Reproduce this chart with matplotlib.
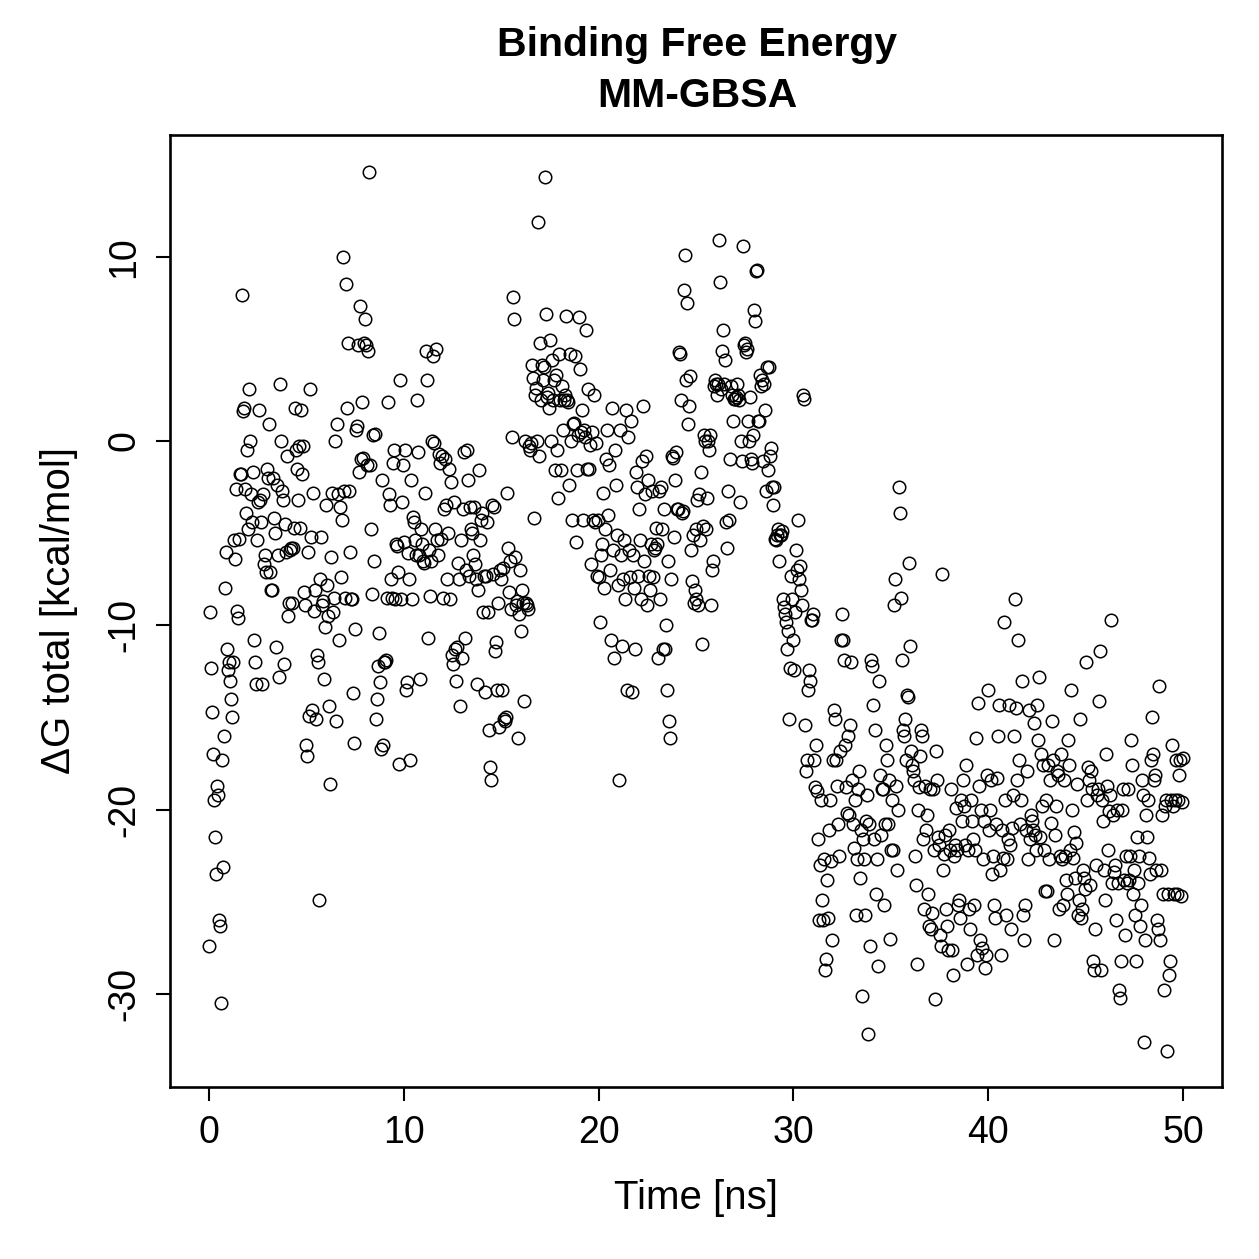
import numpy as np
import matplotlib
matplotlib.use("Agg")
import matplotlib.pyplot as plt

plt.rcParams['font.family'] = ['Liberation Sans', 'DejaVu Sans']

# Delta G total [kcal/mol], read in time order from the reference (about 0.05 ns apart)
dg_part01 = [-27.4, -9.3, -12.3, -14.7, -17.0, -19.5, -21.5, -23.5, -18.7, -19.2, -26.0, -26.3, -30.5, -17.3, -23.1, -16.0, -8.0, -6.0, -11.3, -12.4,
             -12.0, -13.0, -14.0, -15.0, -12.0, -5.4, -6.4, -2.6, -9.2, -9.6, -5.3, -1.8, -1.8, 7.9, 1.6, 1.8, -2.6, -3.9, -0.5, -4.8,
             2.8, 0.0, -2.9, -4.4, -1.7, -10.8, -12.0, -13.2, -5.4, -3.3, 1.7, -3.2, -4.4, -13.2, -2.9, -6.7, -6.2, -7.1, -1.5, -2.0,
             0.9, -7.1, -8.1, -8.1, -2.0, -4.2, -5.0, -11.2, -2.4, -6.2, -12.8, 3.1, 0.0, -2.7, -3.2, -12.1, -4.5, -6.0, -0.8, -9.5,
             -8.8, -5.9, -5.8, -8.8, -5.8, -4.7, 1.8, -0.5, -1.5, -3.2, -0.3, -4.7, 1.7, -1.8, -0.3, -8.2, -8.9, -16.5, -17.1, -6.0]
dg_part02 = [-14.9, 2.8, -5.2, -14.6, -2.8, -9.2, -8.1, -15.1, -11.6, -12.0, -24.9, -7.5, -5.2, -8.9, -8.7, -12.9, -10.1, -3.5, -7.8, -9.5,
             -14.4, -18.6, -6.3, -2.8, -9.3, -8.5, 0.0, -15.2, 0.9, -2.9, -10.8, -3.6, -7.4, -4.3, 10.0, -2.7, -8.5, 8.5, 1.8, 5.3,
             -2.7, -6.0, -8.6, -8.6, -13.7, -16.4, -10.2, 0.6, 0.8, 5.2, -1.7, 7.3, -1.0, 2.1, -0.9, 5.3, 6.6, 5.2, -1.3, 4.9,
             14.6, -1.3, -4.8, -8.3, 0.3, -6.5, 0.4, -15.1, -14.0, -12.2, -10.4, -13.1, -16.7, -2.1, -16.5, -12.0, -12.0, -11.9, -8.5, 2.1, -2.9, -3.5,
             -7.5, -8.5, -1.2, -0.5, -8.6, -5.6, -5.7, -7.1, -17.5, 3.3, -8.6, -3.3, -1.3, -5.5, -0.5, -13.5, -13.1, -6.1, -7.5, -17.3, -2.1]
dg_part03 = [-8.6, -4.1, -4.4, -5.4, -6.2, 2.2, -0.6, -6.2, -12.9, -4.8, -5.6, -6.5, -6.6, -2.8, 4.9, 3.3, -10.7, -5.9, -8.4, -6.5,
             0.0, 4.6, -0.1, -4.8, 5.0, -5.4, -6.2, -0.7, -1.2, -5.3, -0.8, -8.5, -3.7, -1.0, -3.5, -7.5, -5.0, -1.5, -8.6, -2.2,
             -11.6, -12.1, -3.3, -11.3, -13.0, -11.2, -6.6, -7.5, -14.4, -5.4, -11.8, -3.7, -0.6, -10.7, -7.0, -0.5, -2.1, -7.3, -3.6, -4.8,
             -5.0, -6.2, -3.6, -6.7, -7.5, -13.2, -8.1, -1.6, -5.4, -4.3, -3.9, -9.3, -7.3, -13.6, -7.3, -4.4, -9.3, -15.7, -17.7, -18.4,
             -3.5, -7.2, -3.6, -11.4, -10.9, -13.5, -8.8, -15.5, -7.0, -7.5, -13.5, -6.9, -15.1, -15.2, -15.0, -2.8, -5.8, -8.2, -6.5, -9.1]
dg_part04 = [0.2, 7.8, 6.6, -6.3, -8.9, -8.7, -16.1, -9.4, -7.0, -10.3, -8.1, -8.8, -14.1, 0.0, -8.8, -8.9, -9.1, -0.3, -0.5, -0.1,
             4.1, 3.4, -4.2, 2.5, 2.9, 0.0, 11.9, -0.8, 5.3, 2.2, 4.1, 3.3, 4.0, 14.3, 6.9, 2.4, 2.6, 1.8, 5.5, 0.0,
             4.4, 2.2, 3.3, -1.6, 3.6, -0.5, -3.1, 4.7, 2.2, -1.6, 3.0, 0.6, 2.2, 2.5, 6.8, 2.2, 2.1, -2.4, 4.7, 0.0,
             -4.3, 0.9, 1.0, 4.6, -5.5, -1.6, 0.3, 6.7, 3.9, 0.5, 1.7, -4.3, 0.6, 0.2, 6.0, -1.5, 2.8, -1.5, -0.2, -6.7,
             0.5, -4.3, 2.5, -4.4, -0.1, -7.3, -4.3, -7.4, -9.8, -6.2, -5.6, -2.8, -8.0, -4.8, -1.0, 0.6, -4.0, -1.3, -7.0, -10.8]
dg_part05 = [1.8, -5.9, -11.8, -0.5, -2.4, -5.1, -7.8, -18.4, 0.6, -6.2, -11.1, -7.5, -5.4, -8.6, 1.7, -13.5, 0.2, -5.9, -7.4, 1.1,
             -13.6, -6.2, -8.0, -11.3, -1.7, -2.5, -7.3, -3.7, -5.4, -8.6, -1.1, 1.9, -6.5, -2.9, -0.8, -8.9, -2.1, -7.3, -8.1, -5.6,
             -2.7, -7.4, -5.9, -5.8, -4.7, -5.6, -11.8, -2.7, -8.6, -2.5, -4.8, -11.3, -3.7, -11.3, -10.0, -13.5, -6.5, -15.2, -16.1, -7.5,
             -0.8, -0.9, -5.2, -2.1, -0.6, -3.7, -3.7, 4.8, 4.7, 2.2, -3.9, -3.8, 8.2, 10.1, 3.3, 7.5, 0.9, 1.9, 3.5, -5.9,
             -7.6, -5.1, -8.8, -8.1, -4.8, -8.6, -3.2, -8.9, -2.9, -5.4, -1.7, -11.0, -4.6, 0.3, 0.0, -4.8, -3.1, 0.0, -0.5, 0.3]
dg_part06 = [-8.9, -7.0, -6.5, 3.0, 3.3, 3.1, 2.5, 3.1, 10.9, 8.6, 2.8, 4.9, 6.0, 3.1, 4.4, -4.4, -5.8, -2.7, -4.3, -1.0,
             3.0, 2.5, 1.1, 2.3, 2.3, 2.4, 3.1, 2.5, 2.2, -3.3, 0.0, -1.1, 10.6, 5.2, 5.3, 4.8, 5.0, 1.1, 0.0, 2.4,
             -1.0, -1.2, 0.3, 7.1, 6.5, 9.2, 9.3, 1.1, 1.1, 3.6, 3.0, 3.3, -1.1, 3.1, 1.7, -2.7, 4.0, -1.6, 4.0, -0.8,
             -0.4, -2.5, -3.5, -2.5, -5.3, -5.4, -5.1, -4.8, -6.5, -5.1, -5.1, -4.9, -8.6, -9.0, -9.4, -9.8, -11.3, -10.3, -15.1, -12.3,
             -7.3, -8.6, -10.8, -12.4, -9.3, -5.9, -7.0, -4.3, -7.5, -6.8, -8.1, -8.9, 2.5, 2.3, -15.4, -17.9, -17.3, -13.5, -12.4, -13.0]
dg_part07 = [-9.7, -9.7, -9.4, -17.3, -18.8, -16.5, -19.0, -21.6, -26.0, -23.0, -19.5, -24.9, -26.0, -22.7, -28.7, -28.1, -23.8, -25.9, -21.1, -19.5,
             -22.8, -27.1, -17.3, -14.6, -15.1, -17.3, -18.7, -20.8, -22.5, -16.8, -10.8, -9.4, -10.8, -11.9, -16.5, -18.8, -20.2, -16.0, -20.3, -15.4,
             -12.0, -18.4, -20.8, -22.1, -19.5, -25.7, -22.7, -18.9, -17.9, -23.7, -21.1, -30.1, -21.6, -22.7, -25.7, -20.6, -19.2, -32.2, -20.8, -27.4,
             -11.9, -12.2, -14.3, -21.6, -15.7, -24.6, -22.7, -28.5, -13.0, -18.1, -21.4, -18.9, -18.9, -25.2, -20.8, -16.5, -17.3, -20.8, -18.4, -27.0,
             -22.2, -19.5, -22.2, -8.9, -7.5, -18.7, -23.3, -20.0, -2.5, -3.9, -8.5, -11.9, -15.7, -16.0, -15.1, -17.3, -13.8, -13.9, -6.6, -11.1]
dg_part08 = [-16.8, -17.6, -17.9, -18.4, -22.5, -24.1, -28.4, -20.0, -18.8, -17.1, -15.7, -16.0, -21.6, -25.4, -18.7, -21.1, -20.3, -24.6, -26.3, -18.9,
             -26.5, -25.6, -18.9, -22.2, -30.3, -16.8, -18.4, -21.5, -21.9, -26.8, -27.4, -7.2, -23.3, -22.4, -21.4, -25.4, -26.3, -27.6, -21.1, -22.2,
             -18.9, -27.6, -29.0, -22.5, -21.9, -19.9, -22.2, -25.2, -24.9, -25.9, -19.5, -20.6, -18.4, -19.8, -21.9, -17.6, -28.4, -22.2, -25.4, -26.5,
             -19.5, -20.6, -21.6, -25.2, -22.2, -16.1, -27.9, -14.2, -18.7, -27.1, -20.0, -27.5, -22.7, -20.6, -28.6, -27.9, -18.1, -13.5, -21.1, -20.0,
             -18.4, -23.5, -22.5, -25.2, -25.9, -20.8, -18.3, -16.0, -14.3, -23.3, -27.9, -21.1, -22.6, -9.8, -19.5, -25.7, -22.7, -21.6, -14.3, -21.9]
dg_part09 = [-26.5, -21.0, -19.2, -16.0, -8.6, -14.5, -18.4, -10.8, -17.3, -20.8, -19.5, -13.0, -25.7, -27.1, -25.2, -21.1, -17.9, -22.7, -14.6, -21.6,
             -20.3, -20.6, -21.1, -15.3, -21.4, -22.2, -14.3, -16.2, -12.8, -21.5, -17.0, -19.8, -17.6, -22.2, -24.4, -19.5, -24.4, -17.6, -22.7, -18.4,
             -20.7, -15.2, -17.3, -27.1, -21.4, -19.8, -17.9, -18.1, -25.4, -22.5, -17.0, -22.7, -25.2, -18.4, -22.5, -23.8, -24.6, -16.2, -17.6, -22.2,
             -13.5, -20.0, -22.6, -21.2, -23.7, -21.8, -18.6, -25.7, -24.9, -15.1, -25.9, -25.4, -23.3, -23.7, -24.3, -12.0, -19.5, -17.7, -18.4, -24.1,
             -17.9, -18.9, -28.2, -28.7, -26.5, -23.0, -19.2, -18.9, -14.1, -11.4, -28.7, -19.5, -20.6, -23.3, -24.9, -17.0, -18.7, -22.2, -20.1, -19.2]
dg_part10 = [-9.7, -24.0, -20.3, -23.4, -23.0, -26.0, -20.0, -24.0, -29.8, -30.2, -28.2, -20.0, -18.9, -23.8, -26.8, -22.5, -24.0, -18.9, -23.8, -22.5,
             -16.2, -17.6, -24.6, -23.3, -25.7, -28.2, -21.5, -24.0, -22.5, -26.3, -25.2, -18.4, -19.2, -32.6, -27.1, -20.3, -21.5, -19.5, -22.6, -23.5,
             -17.3, -15.0, -17.0, -18.4, -18.1, -23.3, -26.0, -26.5, -13.3, -27.1, -23.3, -20.3, -24.6, -29.8, -19.8, -19.5, -33.1, -24.6, -29.0, -28.2,
             -19.5, -16.5, -19.8, -24.6, -19.5, -17.3, -24.6, -19.5, -18.1, -17.3, -24.7, -19.6, -17.2]

dg_total = np.array(dg_part01 + dg_part02 + dg_part03 + dg_part04 + dg_part05 +
                    dg_part06 + dg_part07 + dg_part08 + dg_part09 + dg_part10)
time_ns = np.linspace(0, 50, len(dg_total))

x_ticks = [0, 10, 20, 30, 40, 50]
y_ticks = [-30, -20, -10, 0, 10]

W = H = 1259
fig = plt.figure(figsize=(W / 100, H / 100), dpi=100)
ax = fig.add_axes([170 / W, 1 - 1087 / H, (1222 - 170) / W, (1087 - 135) / H])

ax.plot(time_ns, dg_total, linestyle='none', marker='o', markersize=9.0,
        markerfacecolor='none', markeredgecolor='black', markeredgewidth=1.1)

ax.set_xlim(-2, 52)
ax.set_ylim(-35.05, 16.6)
ax.set_xticks(x_ticks)
ax.set_yticks(y_ticks)
ax.set_xticklabels([str(v) for v in x_ticks])
ax.set_yticklabels([str(v) for v in y_ticks], rotation=90, va='center')
ax.tick_params(axis='both', direction='out', length=10, width=1.5, labelsize=27, pad=10, colors='black')
for s in ax.spines.values():
    s.set_linewidth(1.9)

ax.set_xlabel('Time [ns]', fontsize=29, labelpad=20)
ax.set_ylabel('ΔG total [kcal/mol]', fontsize=29, labelpad=20)

fig.text(697 / W, 1 - 45 / H, 'Binding Free Energy', ha='center', va='center', fontsize=29.5, fontweight='bold')
fig.text(697 / W, 1 - 96 / H, 'MM-GBSA', ha='center', va='center', fontsize=29.5, fontweight='bold')

fig.savefig('out.png', dpi=100)
